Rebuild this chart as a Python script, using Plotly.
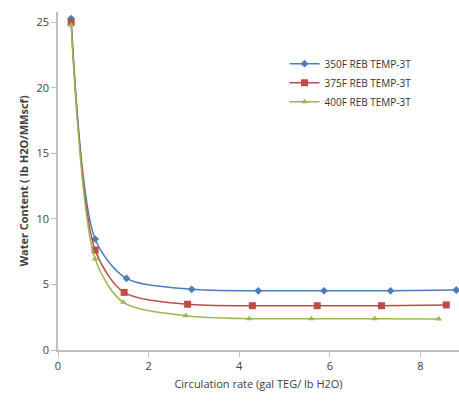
import plotly.graph_objects as go

# Circulation rate (gal TEG / lb H2O) and dry-gas water content (lb H2O/MMscf)
x_350 = [0.29, 0.82, 1.51, 2.95, 4.42, 5.87, 7.34, 8.79]
y_350 = [25.3, 8.47, 5.47, 4.63, 4.52, 4.52, 4.52, 4.58]

x_375 = [0.29, 0.82, 1.46, 2.86, 4.29, 5.72, 7.14, 8.57]
y_375 = [25.0, 7.63, 4.40, 3.49, 3.38, 3.38, 3.38, 3.44]

x_400 = [0.29, 0.82, 1.44, 2.82, 4.22, 5.59, 6.99, 8.40]
y_400 = [24.8, 6.95, 3.64, 2.62, 2.39, 2.39, 2.39, 2.37]

series_names = ["350F REB TEMP-3T", "375F REB TEMP-3T", "400F REB TEMP-3T"]
x_ticks = [0, 2, 4, 6, 8]
y_ticks = [0, 5, 10, 15, 20, 25]

styles = [
    dict(color="#4a7ebb", symbol="diamond", size=6),
    dict(color="#be4b48", symbol="square", size=7),
    dict(color="#98b954", symbol="triangle-up", size=6),
]

fig = go.Figure()
for name, xs, ys, st in zip(series_names, [x_350, x_375, x_400],
                            [y_350, y_375, y_400], styles):
    fig.add_trace(go.Scatter(
        x=xs, y=ys, name=name, mode="lines+markers",
        line=dict(color=st["color"], width=1.5, shape="spline", smoothing=0.8),
        marker=dict(color=st["color"], symbol=st["symbol"], size=st["size"]),
    ))

axis_font = dict(family="Open Sans, Liberation Sans, sans-serif", size=11, color="#404040")

fig.update_layout(
    width=459, height=410,
    margin=dict(l=58, r=0, t=12, b=60),
    paper_bgcolor="white", plot_bgcolor="white",
    font=axis_font,
    showlegend=True,
    legend=dict(x=0.565, y=0.89, xanchor="left", yanchor="top",
                bgcolor="rgba(0,0,0,0)", font=dict(size=10, color="#333333"),
                tracegroupgap=0, itemwidth=30),
)
fig.update_xaxes(
    range=[0, 8.85], tickvals=x_ticks, showgrid=False, zeroline=False,
    showline=True, linecolor="#bfbfbf", linewidth=1.5,
    ticks="outside", ticklen=5, tickcolor="#bfbfbf",
    title=dict(text="Circulation rate (gal TEG/ lb H2O)", font=dict(size=11), standoff=8),
)
fig.update_yaxes(
    range=[0, 25.8], tickvals=y_ticks, showgrid=False, zeroline=False,
    showline=True, linecolor="#bfbfbf", linewidth=1.5,
    ticks="outside", ticklen=5, tickcolor="#bfbfbf",
    title=dict(text="<b>Water Content ( lb H2O/MMscf)</b>", font=dict(size=11), standoff=6),
)

fig.write_html("out.html")
